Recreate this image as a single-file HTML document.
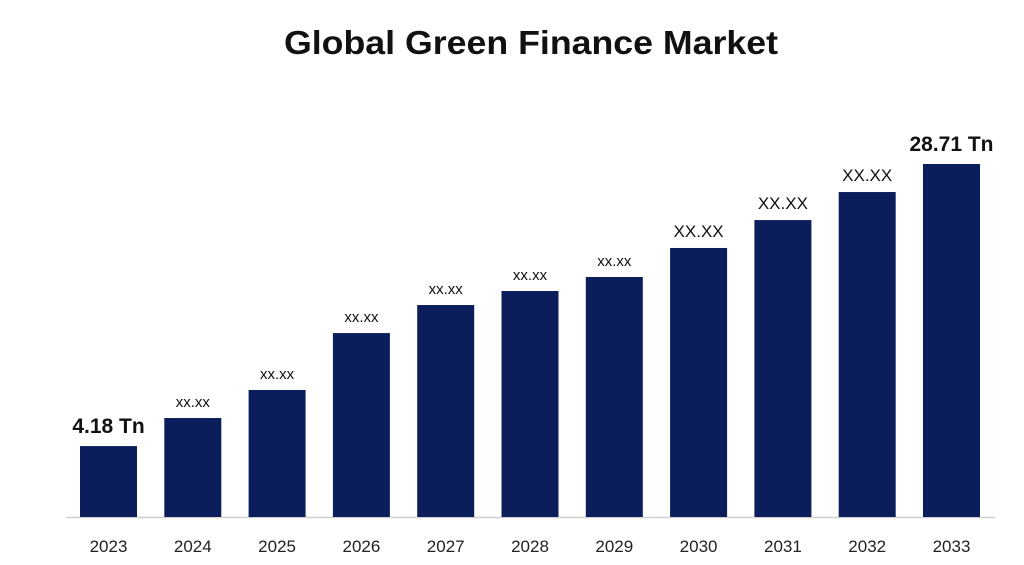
<!DOCTYPE html>
<html><head><meta charset="utf-8"><style>
html,body{margin:0;padding:0;background:#fff;}
svg{display:block;font-family:"Liberation Sans",sans-serif;}
</style></head><body>
<svg id="chart" width="1024" height="565" viewBox="0 0 1024 565">
<text x="531" y="54" text-anchor="middle" font-size="33" font-weight="bold" fill="#111" textLength="494" lengthAdjust="spacingAndGlyphs">Global Green Finance Market</text>
<line x1="66" y1="517.5" x2="995" y2="517.5" stroke="#d0d0d0" stroke-width="1.5"/>
<g id="bars"></g>
</svg>
<script>
const categories=["2023","2024","2025","2026","2027","2028","2029","2030","2031","2032","2033"];
const values=[5.77,8.05,10.33,14.96,17.24,18.38,19.52,21.88,24.15,26.43,28.71];
const valueLabels=["4.18 Tn","xx.xx","xx.xx","xx.xx","xx.xx","xx.xx","xx.xx","XX.XX","XX.XX","XX.XX","28.71 Tn"];
const ns="http://www.w3.org/2000/svg";
const g=document.getElementById('bars');
const y0=517,yMaxPx=164,vMax=28.71;
function yScale(v){return y0-(v/vMax)*(y0-yMaxPx);}
function xScale(i){return 80+i*84.3;}
const bw=57;
categories.forEach((c,i)=>{
  const x=xScale(i),y=yScale(values[i]);
  const r=document.createElementNS(ns,'rect');
  
  
  r.setAttribute('x',x);r.setAttribute('y',y);r.setAttribute('width',bw);r.setAttribute('height',y0-y);
  r.setAttribute('fill','#0b1e5b');
  g.appendChild(r);
  const t=document.createElementNS(ns,'text');
  
  
  t.setAttribute('x',x+bw/2);t.setAttribute('y',552);t.setAttribute('text-anchor','middle');
  t.setAttribute('font-size','17');t.setAttribute('fill','#222');t.textContent=c;
  g.appendChild(t);
  const l=document.createElementNS(ns,'text');
  
  
  const lab=valueLabels[i];
  const big=lab.indexOf('Tn')>=0, upper=lab==="XX.XX";
  l.setAttribute('x',x+bw/2);
  l.setAttribute('y',y-(big?13:11));
  l.setAttribute('text-anchor','middle');
  l.setAttribute('font-size',big?'21':(upper?'17':'15'));
  if(big)l.setAttribute('font-weight','bold');
  l.setAttribute('fill','#111');
  l.textContent=lab;
  g.appendChild(l);
});
</script>
</body></html>
